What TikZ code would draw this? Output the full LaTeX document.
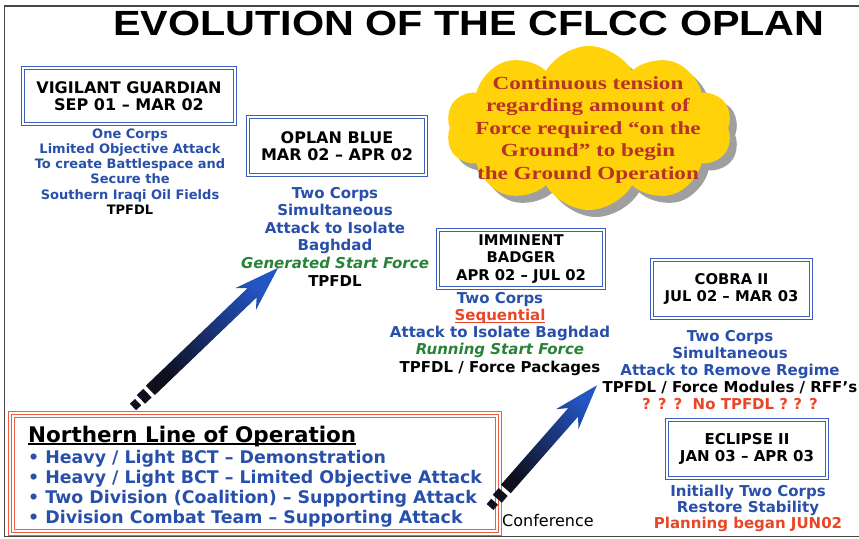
\documentclass[tikz,border=0pt]{standalone}
\usepackage{fontspec}
\setmainfont{DejaVu Sans}
\newfontfamily\titlefont{Liberation Sans}[FakeStretch=1.18]
\newfontfamily\cloudfont{Liberation Serif}[FakeStretch=1.25]
\usetikzlibrary{shapes.symbols}
\newcommand\myfs[2]{\fontsize{#1}{#2}\selectfont}
\newcommand\ulthick[2]{\setbox0\hbox{#2}\rlap{\rule[-2.6pt]{\wd0}{#1}}\box0}
\definecolor{bblue}{RGB}{60,95,190}
\definecolor{tblue}{RGB}{40,80,170}
\definecolor{tgreen}{RGB}{40,130,55}
\definecolor{tred}{RGB}{232,70,40}
\definecolor{cred}{RGB}{185,50,40}
\definecolor{cyel}{RGB}{255,210,10}
\definecolor{nred}{RGB}{240,95,65}
\definecolor{framegray}{RGB}{70,70,70}
\definecolor{arrowdark}{RGB}{15,15,30}
\definecolor{arrowblue}{RGB}{35,85,195}
\newcommand\fatarrow[4]{%
  \begin{scope}[shift={#1}, rotate=#2]
    \fill[arrowdark] (0,-4.5) -- (7,-4.5) -- (7,4.5) -- (0,4.5) -- cycle;
    \fill[arrowdark] (11,-6) -- (20,-6) -- (20,6) -- (11,6) -- cycle;
    \shade[bottom color=arrowdark, top color=arrowblue, shading angle=#4]
      (24,-6.5) -- (#3-36,-6.5) -- (#3-45,-15) -- (#3,0) -- (#3-45,15) -- (#3-36,6.5) -- (24,6.5) -- cycle;
  \end{scope}}
\begin{document}
\begin{tikzpicture}[x=1pt,y=-1pt,
  hdr/.style={draw=bblue, line width=0.8pt, double=white, double distance=1.5pt, fill=white,
    align=center, inner sep=0pt, text=black, font=\bfseries\myfs{16}{17}},
  body/.style={align=center, inner sep=0pt, text=tblue, font=\bfseries\myfs{15}{17.5}},
  cloudbg/.style={cloud, cloud puffs=10, cloud puff arc=120, aspect=1.75,
    minimum width=286pt, minimum height=164pt, inner sep=0pt}]
\useasboundingbox (0,0) rectangle (859,538);
\draw[framegray, line width=1.5pt] (859,6) -- (4.5,6) -- (4.5,536.5) -- (859,536.5);

% title
\node[text=black, font=\titlefont\bfseries\myfs{35}{35}] (title) at (469,23) {EVOLUTION OF THE CFLCC OPLAN};

% cloud
\node[cloudbg, fill=gray!75] (cloudsh) at (596,135) {};
\node[cloudbg, fill=cyel] (cloud) at (589,128) {};
\node[align=center, inner sep=0pt, text=cred, font=\cloudfont\bfseries\myfs{18.5}{22.5}] (cloudtxt) at (588,130)
  {Continuous tension\\regarding amount of\\Force required “on the\\Ground” to begin\\the Ground Operation};

% Vigilant Guardian
\node[hdr, minimum width=212pt, minimum height=56pt] (vg) at (129,96) {VIGILANT GUARDIAN\\SEP 01 – MAR 02};
\node[body, font=\bfseries\myfs{13}{15.2}, anchor=north] (vgtxt) at (130,128.5)
  {One Corps\\Limited Objective Attack\\To create Battlespace and\\Secure the\\Southern Iraqi Oil Fields\\\textcolor{black}{TPFDL}};

% Oplan Blue
\node[hdr, minimum width=178pt, minimum height=58pt] (ob) at (337,146) {OPLAN BLUE\\MAR 02 – APR 02};
\node[body, font=\bfseries\myfs{15}{17.6}, anchor=north] (obtxt) at (335,186.7)
  {Two Corps\\Simultaneous\\Attack to Isolate\\Baghdad\\\textcolor{tgreen}{\itshape Generated Start Force}\\\textcolor{black}{TPFDL}};

% Imminent Badger
\node[hdr, font=\bfseries\myfs{14.8}{17.5}, minimum width=166pt, minimum height=58pt] (ib) at (521,259) {IMMINENT\\BADGER\\APR 02 – JUL 02};
\node[body, font=\bfseries\myfs{15}{17.3}, anchor=north] (ibtxt) at (500,291.7)
  {Two Corps\\\textcolor{tred}{\ulthick{1.2pt}{Sequential}}\\Attack to Isolate Baghdad\\\textcolor{tgreen}{\itshape Running Start Force}\\\textcolor{black}{TPFDL / Force Packages}};

% Cobra II
\node[hdr, font=\bfseries\myfs{14.8}{17}, minimum width=159pt, minimum height=58pt] (cb) at (731.5,289) {COBRA II\\JUL 02 – MAR 03};
\node[body, font=\bfseries\myfs{15}{17.2}, anchor=north] (cbtxt) at (730,329.7)
  {Two Corps\\Simultaneous\\Attack to Remove Regime\\\textcolor{black}{TPFDL / Force Modules / RFF's}\\\textcolor{tred}{? ? ?\ \ No TPFDL ? ? ?}};

% Eclipse II
\node[hdr, font=\bfseries\myfs{15}{17}, minimum width=160pt, minimum height=58pt] (ec) at (747,449) {ECLIPSE II\\JAN 03 – APR 03};
\node[body, font=\bfseries\myfs{15}{16}, anchor=north] (ectxt) at (748,484.7)
  {Initially Two Corps\\Restore Stability\\\textcolor{tred}{Planning began JUN02}};

% Northern line of operation
\draw[nred, line width=1pt, double=white, double distance=1.5pt] (10,413) rectangle (500,534);
\draw[nred, line width=0.6pt] (14.5,417.5) rectangle (495.5,529.5);
\node[anchor=base west, inner sep=0pt, text=black, font=\bfseries\myfs{21.5}{22}] (nlo) at (28,442)
  {\ulthick{1.4pt}{Northern Line of Operation}};
\node[anchor=north west, align=left, inner sep=0pt, text=tblue, font=\bfseries\myfs{17.4}{20}] (nlotxt) at (28,450)
  {• Heavy / Light BCT – Demonstration\\• Heavy / Light BCT – Limited Objective Attack\\• Two Division (Coalition) – Supporting Attack\\• Division Combat Team – Supporting Attack};

\node[anchor=west, inner sep=0pt, text=black, font=\myfs{16}{18}] (conf) at (502,521) {Conference};

% arrows
\coordinate (a1tail) at (133,407);
\coordinate (a2tail) at (490,507);
\fatarrow{(a1tail)}{43.8}{201}{-46.2}
\fatarrow{(a2tail)}{48.7}{162}{-41.3}
\end{tikzpicture}
\end{document}
